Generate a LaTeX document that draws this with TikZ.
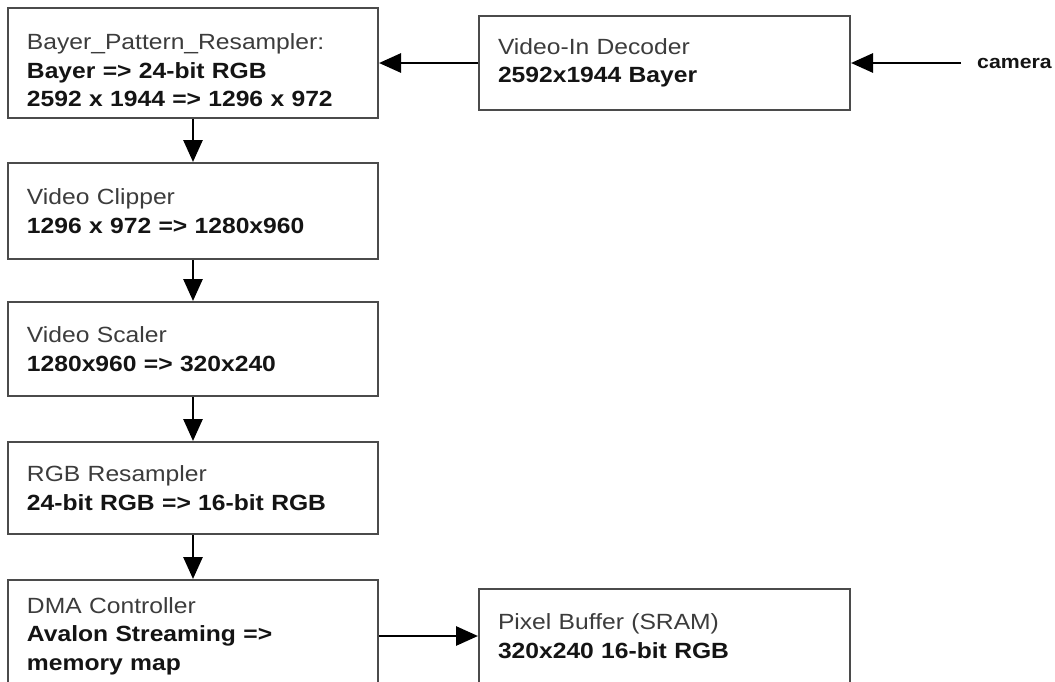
\documentclass[tikz,border=0pt]{standalone}
\usepackage{xcolor}
\usepackage{fontspec}
\setmainfont[FakeStretch=1.12]{Liberation Sans}
\usepackage{tikz}
\usetikzlibrary{arrows.meta, positioning}
\definecolor{boxgray}{RGB}{75,75,75}
\definecolor{titlegray}{RGB}{60,60,60}
\definecolor{datadark}{RGB}{20,20,20}
\tikzset{
  stage/.style={rectangle, draw=boxgray, fill=white, line width=2pt,
    text width=332pt, inner xsep=19pt, inner ysep=0pt, align=left,
    text=datadark, font=\fontsize{22}{28.5}\selectfont\bfseries},
  sidestage/.style={stage, text width=333pt, minimum height=94pt},
  flow/.style={-{Triangle[length=22pt, width=19pt]}, line width=2.8pt, color=black}
}
\newcommand{\stagename}[1]{{\mdseries\color{titlegray}#1}}

\begin{document}
\begin{tikzpicture}[x=1pt, y=-1pt]
  \useasboundingbox (0,0) rectangle (1055,681);

  \node[stage, minimum height=110pt] (bayer) at (193,63)
    {\rule{0pt}{31pt}\stagename{Bayer\_Pattern\_Resampler:}\\Bayer => 24-bit RGB\\2592 x 1944 => 1296 x 972};
  \node[stage, minimum height=96pt, below=43pt of bayer] (clipper)
    {\stagename{Video Clipper}\\1296 x 972 => 1280x960};
  \node[stage, minimum height=94pt, below=41pt of clipper] (scaler)
    {\stagename{Video Scaler}\\1280x960 => 320x240};
  \node[stage, minimum height=92pt, below=44pt of scaler] (rgbres)
    {\stagename{RGB Resampler}\\24-bit RGB => 16-bit RGB};
  \node[stage, minimum height=112pt, below=44pt of rgbres] (dma)
    {\stagename{DMA Controller}\\Avalon Streaming =>\\memory map};

  \node[sidestage, right=99pt of bayer] (decoder)
    {\stagename{Video-In Decoder}\\2592x1944 Bayer};
  \node[sidestage, right=99pt of dma] (pixbuf)
    {\stagename{Pixel Buffer (SRAM)}\\320x240 16-bit RGB};

  \coordinate[right=110pt of decoder] (camin);
  \node[right=16pt of camin, inner sep=0pt, anchor=west,
    font=\fontsize{19}{22}\selectfont\bfseries, text=datadark] (camera) {camera};

  % Path lines
  \draw[flow] (camin) -- (decoder);
  \draw[flow] (decoder) -- (bayer);
  \draw[flow] (bayer) -- (clipper);
  \draw[flow] (clipper) -- (scaler);
  \draw[flow] (scaler) -- (rgbres);
  \draw[flow] (rgbres) -- (dma);
  \draw[flow] (dma) -- (pixbuf);
\end{tikzpicture}
\end{document}
